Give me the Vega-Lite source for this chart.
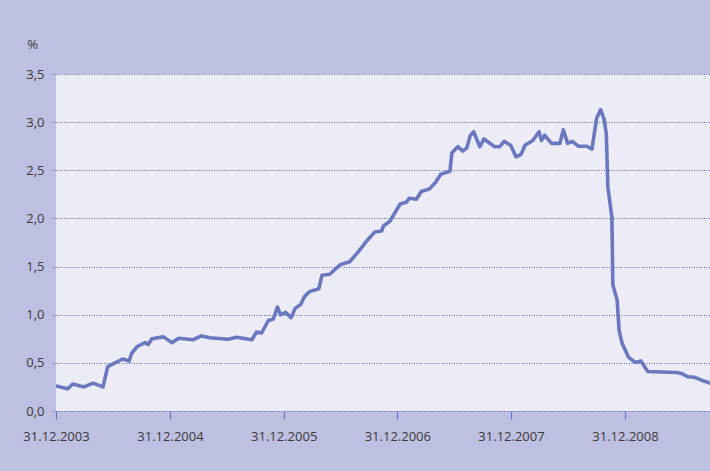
{
  "$schema": "https://vega.github.io/schema/vega-lite/v6.json",
  "width": 654,
  "height": 337,
  "autosize": {"type": "none"},
  "padding": {"left": 56, "top": 74, "right": 0, "bottom": 60},
  "background": "#bec0e1",
  "config": {
    "view": {"fill": "#ececf6", "stroke": null},
    "font": "Open Sans"
  },
  "data": {
    "values": [
      {"d": "2003-12-31", "v": 0.26},
      {"d": "2004-02-06", "v": 0.23},
      {"d": "2004-02-23", "v": 0.28},
      {"d": "2004-03-30", "v": 0.25},
      {"d": "2004-04-28", "v": 0.29},
      {"d": "2004-05-30", "v": 0.25},
      {"d": "2004-06-14", "v": 0.46},
      {"d": "2004-08-01", "v": 0.54},
      {"d": "2004-08-22", "v": 0.52},
      {"d": "2004-08-30", "v": 0.60},
      {"d": "2004-09-17", "v": 0.67},
      {"d": "2004-10-12", "v": 0.71},
      {"d": "2004-10-22", "v": 0.69},
      {"d": "2004-11-03", "v": 0.75},
      {"d": "2004-12-10", "v": 0.77},
      {"d": "2005-01-06", "v": 0.71},
      {"d": "2005-01-28", "v": 0.755},
      {"d": "2005-03-15", "v": 0.74},
      {"d": "2005-04-11", "v": 0.78},
      {"d": "2005-05-08", "v": 0.76},
      {"d": "2005-07-06", "v": 0.745},
      {"d": "2005-08-02", "v": 0.765},
      {"d": "2005-09-20", "v": 0.74},
      {"d": "2005-10-05", "v": 0.82},
      {"d": "2005-10-21", "v": 0.81},
      {"d": "2005-11-12", "v": 0.94},
      {"d": "2005-11-28", "v": 0.955},
      {"d": "2005-12-11", "v": 1.08},
      {"d": "2005-12-21", "v": 1.0},
      {"d": "2006-01-06", "v": 1.025},
      {"d": "2006-01-24", "v": 0.97},
      {"d": "2006-02-06", "v": 1.066},
      {"d": "2006-02-24", "v": 1.108},
      {"d": "2006-03-08", "v": 1.19},
      {"d": "2006-03-24", "v": 1.24},
      {"d": "2006-04-23", "v": 1.27},
      {"d": "2006-05-03", "v": 1.41},
      {"d": "2006-05-28", "v": 1.42},
      {"d": "2006-07-01", "v": 1.52},
      {"d": "2006-07-31", "v": 1.55},
      {"d": "2006-08-24", "v": 1.64},
      {"d": "2006-09-13", "v": 1.72},
      {"d": "2006-09-22", "v": 1.76},
      {"d": "2006-10-20", "v": 1.86},
      {"d": "2006-11-11", "v": 1.87},
      {"d": "2006-11-16", "v": 1.92},
      {"d": "2006-12-07", "v": 1.97},
      {"d": "2007-01-09", "v": 2.15},
      {"d": "2007-01-30", "v": 2.17},
      {"d": "2007-02-07", "v": 2.21},
      {"d": "2007-03-02", "v": 2.20},
      {"d": "2007-03-18", "v": 2.28},
      {"d": "2007-04-13", "v": 2.305},
      {"d": "2007-05-04", "v": 2.38},
      {"d": "2007-05-20", "v": 2.46},
      {"d": "2007-06-18", "v": 2.49},
      {"d": "2007-06-24", "v": 2.68},
      {"d": "2007-07-13", "v": 2.745},
      {"d": "2007-07-29", "v": 2.70},
      {"d": "2007-08-11", "v": 2.73},
      {"d": "2007-08-22", "v": 2.86},
      {"d": "2007-09-02", "v": 2.90},
      {"d": "2007-09-22", "v": 2.745},
      {"d": "2007-10-05", "v": 2.825},
      {"d": "2007-10-24", "v": 2.78},
      {"d": "2007-11-09", "v": 2.745},
      {"d": "2007-11-25", "v": 2.745},
      {"d": "2007-12-09", "v": 2.80},
      {"d": "2007-12-30", "v": 2.76},
      {"d": "2008-01-16", "v": 2.64},
      {"d": "2008-02-01", "v": 2.665},
      {"d": "2008-02-14", "v": 2.76},
      {"d": "2008-03-10", "v": 2.81},
      {"d": "2008-03-30", "v": 2.90},
      {"d": "2008-04-07", "v": 2.81},
      {"d": "2008-04-17", "v": 2.865},
      {"d": "2008-05-09", "v": 2.78},
      {"d": "2008-06-05", "v": 2.78},
      {"d": "2008-06-16", "v": 2.92},
      {"d": "2008-06-30", "v": 2.78},
      {"d": "2008-07-15", "v": 2.80},
      {"d": "2008-08-03", "v": 2.75},
      {"d": "2008-08-30", "v": 2.75},
      {"d": "2008-09-16", "v": 2.72},
      {"d": "2008-10-01", "v": 3.04},
      {"d": "2008-10-14", "v": 3.13},
      {"d": "2008-10-25", "v": 3.03},
      {"d": "2008-11-01", "v": 2.88},
      {"d": "2008-11-06", "v": 2.33},
      {"d": "2008-11-19", "v": 2.01},
      {"d": "2008-11-22", "v": 1.31},
      {"d": "2008-12-06", "v": 1.15},
      {"d": "2008-12-12", "v": 0.84},
      {"d": "2008-12-22", "v": 0.70},
      {"d": "2009-01-11", "v": 0.56},
      {"d": "2009-02-02", "v": 0.505},
      {"d": "2009-02-20", "v": 0.52},
      {"d": "2009-03-14", "v": 0.41},
      {"d": "2009-06-14", "v": 0.40},
      {"d": "2009-06-30", "v": 0.39},
      {"d": "2009-07-21", "v": 0.355},
      {"d": "2009-08-12", "v": 0.35},
      {"d": "2009-09-03", "v": 0.32},
      {"d": "2009-09-30", "v": 0.29}
    ]
  },
  "mark": {"type": "line", "color": "#6b77bf", "strokeWidth": 3.6, "strokeJoin": "round", "strokeCap": "round", "clip": true},
  "encoding": {
    "x": {
      "field": "d",
      "type": "temporal",
      "scale": {"domain": ["2003-12-31", "2009-09-30"], "nice": false},
      "axis": {
        "values": ["2003-12-31", "2004-12-31", "2005-12-31", "2006-12-31", "2007-12-31", "2008-12-31"],
        "format": "%d.%m.%Y",
        "grid": false,
        "domain": false,
        "ticks": true,
        "tickColor": "#6b77bf",
        "tickSize": 8,
        "tickWidth": 1.2,
        "labelPadding": 11,
        "labelFontSize": 13,
        "labelColor": "#3a3a3a",
        "labelFont": "Open Sans",
        "labelAlign": "center",
        "labelFlush": false,
        "labelOverlap": false,
        "title": null
      }
    },
    "y": {
      "field": "v",
      "type": "quantitative",
      "scale": {"domain": [0, 3.5], "nice": false},
      "axis": {
        "values": [0, 0.5, 1, 1.5, 2, 2.5, 3, 3.5],
        "labelExpr": "replace(format(datum.value, '.1f'), '.', ',')",
        "grid": true,
        "gridColor": "#5a64bd",
        "gridDash": [1, 1.5],
        "gridWidth": 1,
        "domain": false,
        "ticks": true,
        "tickColor": "#5a64bd",
        "tickDash": [1, 1.5],
        "tickSize": 4,
        "labelPadding": 8,
        "labelFontSize": 13,
        "labelColor": "#3a3a3a",
        "labelFont": "Open Sans",
        "title": "%",
        "titleAngle": 0,
        "titleX": -24,
        "titleY": -30,
        "titleAlign": "center",
        "titleBaseline": "middle",
        "titleFontSize": 13,
        "titleFontWeight": "normal",
        "titleColor": "#3a3a3a",
        "titleFont": "Open Sans"
      }
    }
  }
}
